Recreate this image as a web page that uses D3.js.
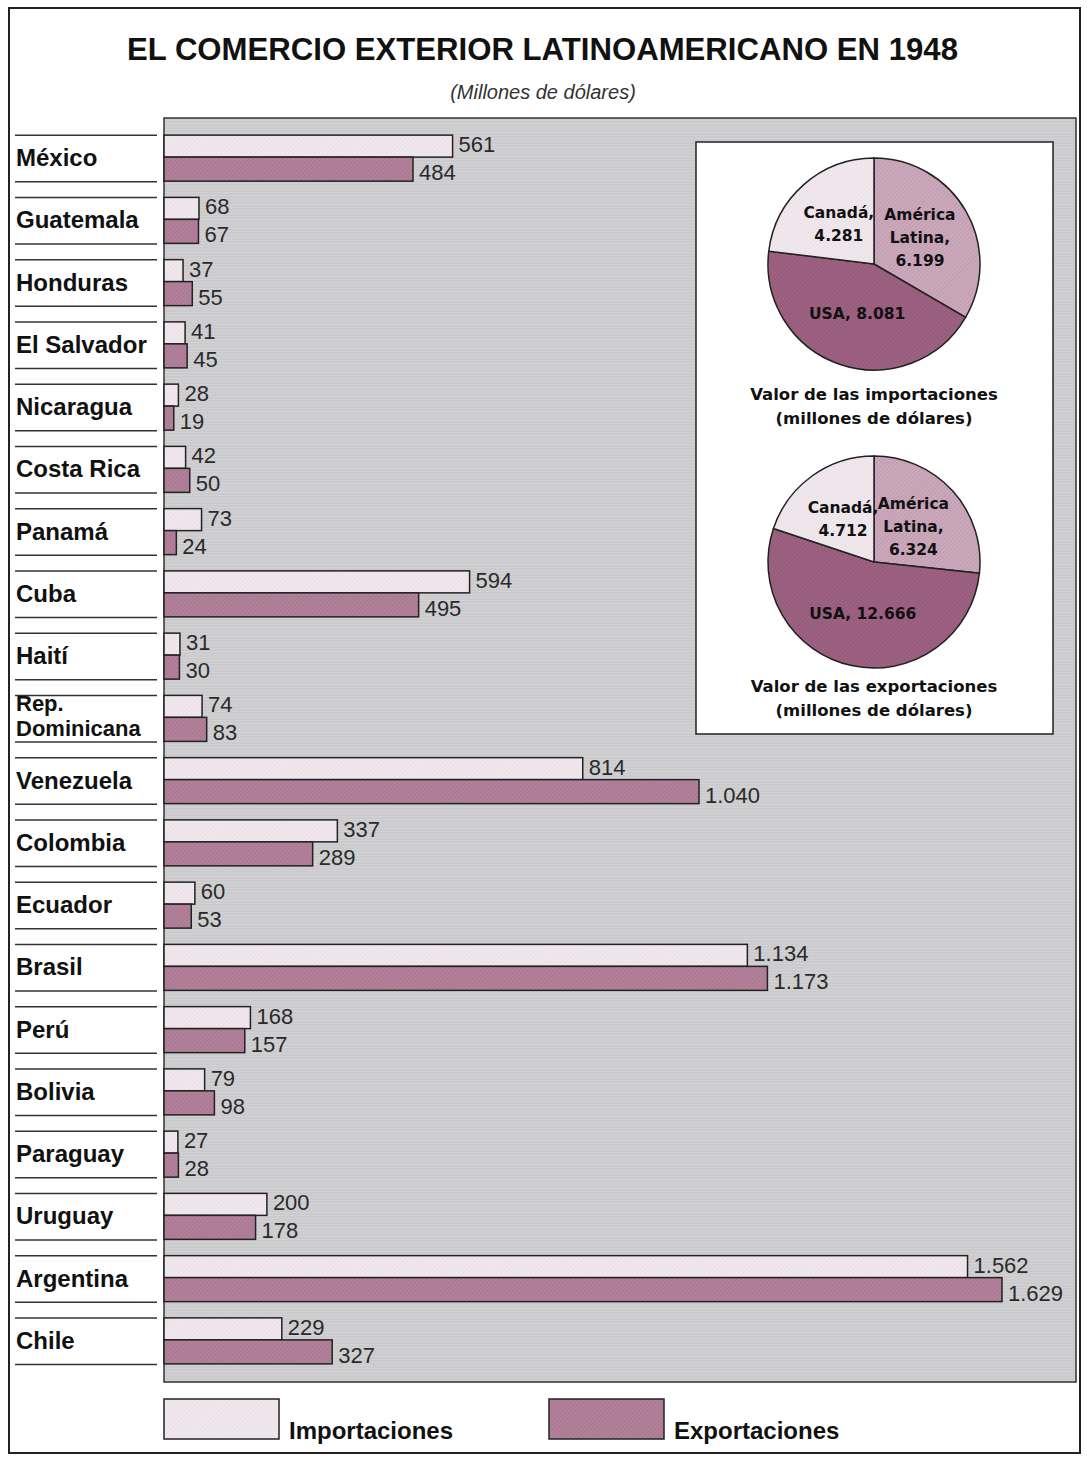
<!DOCTYPE html>
<html>
<head>
<meta charset="utf-8">
<script src="https://cdn.jsdelivr.net/npm/d3@7"></script>
<style>
	body { margin: 0; background: #fff; }
	.country { font-family: 'Liberation Sans', Arial, sans-serif; font-weight: bold; font-size: 24px; fill: #111; }
	.value { font-family: 'Liberation Sans', Arial, sans-serif; font-size: 22px; fill: #2a2a2a; }
	.pie-label { font-family: 'DejaVu Sans', sans-serif; font-weight: bold; font-size: 15.5px; fill: #111; }
	.caption { font-family: 'DejaVu Sans', sans-serif; font-weight: bold; font-size: 16.5px; fill: #111; }
	.legend { font-family: 'Liberation Sans', Arial, sans-serif; font-weight: bold; font-size: 24px; fill: #111; }
</style>
</head>
<body>
<div class="svg-container"></div>
<script>
var countries = ['México', 'Guatemala', 'Honduras', 'El Salvador', 'Nicaragua', 'Costa Rica', 'Panamá',
	'Cuba', 'Haití', 'Rep. Dominicana', 'Venezuela', 'Colombia', 'Ecuador', 'Brasil', 'Perú', 'Bolivia',
	'Paraguay', 'Uruguay', 'Argentina', 'Chile'];
var importaciones = [561, 68, 37, 41, 28, 42, 73, 594, 31, 74, 814, 337, 60, 1134, 168, 79, 27, 200, 1562, 229];
var exportaciones = [484, 67, 55, 45, 19, 50, 24, 495, 30, 83, 1040, 289, 53, 1173, 157, 98, 28, 178, 1629, 327];

var regiones = ['América Latina', 'USA', 'Canadá'];
var importPorOrigen = [6199, 8081, 4281];
var exportPorDestino = [6324, 12666, 4712];

var width = 1087;
var height = 1458;

var fmt = d3.formatLocale({ decimal: ',', thousands: '.', grouping: [3], currency: ['', ''] }).format(',d');

var svg = d3.select('.svg-container')
	.append('svg')
	.attr('width', width)
	.attr('height', height);

// textures
var defs = svg.append('defs');

function hatch(id, base, line, size, angle, sw) {
	var p = defs.append('pattern')
		.attr('id', id)
		.attr('patternUnits', 'userSpaceOnUse')
		.attr('width', size)
		.attr('height', size)
		.attr('patternTransform', 'rotate(' + angle + ')');
	p.append('rect').attr('width', size).attr('height', size).attr('fill', base);
	p.append('line')
		.attr('x1', 0).attr('y1', 0).attr('x2', 0).attr('y2', size)
		.attr('stroke', line).attr('stroke-width', sw);
}

hatch('panelTex', '#cbcbce', '#d9d9dc', 3, 90, 1);
hatch('impTex', '#f1e8ee', '#e2d4dd', 3, 45, 1);
hatch('expTex', '#b2819a', '#9f6a86', 3, 45, 1);
hatch('alTex', '#cba8bb', '#b690a5', 3, 45, 1);
hatch('usaTex', '#9d6181', '#8c5273', 3, 45, 1);
hatch('canTex', '#f1e8ee', '#e3d6de', 3, 45, 1);

// outer frame
svg.append('rect')
	.attr('x', 9).attr('y', 8)
	.attr('width', 1071).attr('height', 1445)
	.attr('fill', 'none')
	.attr('stroke', '#222')
	.attr('stroke-width', 2);

svg.append('text')
	.text('EL COMERCIO EXTERIOR LATINOAMERICANO EN 1948')
	.attr('x', 127)
	.attr('y', 60)
	.attr('textLength', 831)
	.attr('lengthAdjust', 'spacingAndGlyphs')
	.style('font-family', "'Liberation Sans', Arial, sans-serif")
	.style('font-weight', 'bold')
	.style('font-size', '32px')
	.style('fill', '#111');

svg.append('text')
	.text('(Millones de dólares)')
	.attr('x', 543)
	.attr('y', 99)
	.attr('text-anchor', 'middle')
	.style('font-family', "'Liberation Sans', Arial, sans-serif")
	.style('font-style', 'italic')
	.style('font-size', '20px')
	.style('fill', '#333');

var x0 = 164;
var xScale = d3.scaleLinear()
	.domain([0, 1629])
	.range([x0, 1002]);

var yScale = d3.scaleBand()
	.domain(countries)
	.range([126, 1371]);

var rows = countries.map(function(c, i) {
	return { name: c, imp: importaciones[i], exp: exportaciones[i] };
});

// gray panel
svg.append('rect')
	.attr('x', x0).attr('y', 118)
	.attr('width', 912).attr('height', 1264)
	.attr('fill', 'url(#panelTex)')
	.attr('stroke', '#333')
	.attr('stroke-width', 1.5);

function center(d) {
	return yScale(d.name) + yScale.bandwidth() / 2;
}

var row = svg.append('g').selectAll('g')
	.data(rows)
	.enter()
	.append('g');

// rule lines next to the labels
row.append('line')
	.attr('x1', 15).attr('x2', 157)
	.attr('y1', function(d) { return center(d) - 22; })
	.attr('y2', function(d) { return center(d) - 22; })
	.attr('stroke', '#333').attr('stroke-width', 1.5);

row.append('line')
	.attr('x1', 15).attr('x2', 157)
	.attr('y1', function(d) { return center(d) + 24.5; })
	.attr('y2', function(d) { return center(d) + 24.5; })
	.attr('stroke', '#333').attr('stroke-width', 1.5);

row.each(function(d) {
	var g = d3.select(this);
	if (d.name === 'Rep. Dominicana') {
		// two tight lines, as in the print
		g.append('text').attr('class', 'country').style('font-size', '22px')
			.attr('x', 16).attr('y', center(d) - 6).text('Rep.');
		g.append('text').attr('class', 'country').style('font-size', '22px')
			.attr('x', 16).attr('y', center(d) + 19).text('Dominicana');
	} else {
		g.append('text').attr('class', 'country')
			.attr('x', 16).attr('y', center(d) + 9).text(d.name);
	}
});

row.append('rect')
	.attr('x', x0)
	.attr('y', function(d) { return center(d) - 22; })
	.attr('width', function(d) { return xScale(d.imp) - x0; })
	.attr('height', 22)
	.attr('fill', 'url(#impTex)')
	.attr('stroke', '#222')
	.attr('stroke-width', 1.5);

row.append('rect')
	.attr('x', x0)
	.attr('y', function(d) { return center(d); })
	.attr('width', function(d) { return xScale(d.exp) - x0; })
	.attr('height', 24)
	.attr('fill', 'url(#expTex)')
	.attr('stroke', '#222')
	.attr('stroke-width', 1.5);

row.append('text')
	.attr('class', 'value')
	.attr('x', function(d) { return xScale(d.imp) + 6; })
	.attr('y', function(d) { return center(d) - 5; })
	.text(function(d) { return fmt(d.imp); });

row.append('text')
	.attr('class', 'value')
	.attr('x', function(d) { return xScale(d.exp) + 6; })
	.attr('y', function(d) { return center(d) + 23; })
	.text(function(d) { return fmt(d.exp); });

// inset with the two pies
svg.append('rect')
	.attr('x', 696).attr('y', 142)
	.attr('width', 357).attr('height', 592)
	.attr('fill', '#fff')
	.attr('stroke', '#222')
	.attr('stroke-width', 1.5);

var pieFills = ['url(#alTex)', 'url(#usaTex)', 'url(#canTex)'];
var radius = 106;

var pie = d3.pie().sort(null);
var arc = d3.arc().innerRadius(0).outerRadius(radius);
var labelArc = d3.arc().innerRadius(radius * 0.5).outerRadius(radius * 0.5);

function labelLines(name, v) {
	if (name === 'América Latina') return ['América', 'Latina,', fmt(v)];
	if (name === 'Canadá') return ['Canadá,', fmt(v)];
	return [name + ', ' + fmt(v)];
}

function drawPie(values, cx, cy, capY, cap1) {
	var g = svg.append('g')
		.attr('transform', 'translate(' + cx + ',' + cy + ')');

	var arcs = pie(values);

	g.selectAll('path')
		.data(arcs)
		.enter()
		.append('path')
		.attr('d', arc)
		.attr('fill', function(d, i) { return pieFills[i]; })
		.attr('stroke', '#222')
		.attr('stroke-width', 1.5);

	g.selectAll('text.pie-label')
		.data(arcs)
		.enter()
		.append('text')
		.attr('class', 'pie-label')
		.attr('text-anchor', 'middle')
		.each(function(d, i) {
			var c = labelArc.centroid(d);
			var lines = labelLines(regiones[i], d.value);
			var t = d3.select(this);
			var top = c[1] - (lines.length - 1) * 23 / 2 + 5;
			lines.forEach(function(l, k) {
				t.append('tspan')
					.attr('x', c[0])
					.attr('y', top + k * 23)
					.text(l);
			});
		});

	g.append('text')
		.attr('class', 'caption')
		.attr('text-anchor', 'middle')
		.attr('x', 0)
		.attr('y', capY)
		.text(cap1);

	g.append('text')
		.attr('class', 'caption')
		.attr('text-anchor', 'middle')
		.attr('x', 0)
		.attr('y', capY + 24)
		.text('(millones de dólares)');
}

drawPie(importPorOrigen, 874, 264, 136, 'Valor de las importaciones');
drawPie(exportPorDestino, 874, 562, 130, 'Valor de las exportaciones');

// legend
var legend = svg.append('g');
var legendItems = [
	{ label: 'Importaciones', fill: 'url(#impTex)', x: 164 },
	{ label: 'Exportaciones', fill: 'url(#expTex)', x: 549 }
];

legend.selectAll('rect')
	.data(legendItems)
	.enter()
	.append('rect')
	.attr('x', function(d) { return d.x; })
	.attr('y', 1399)
	.attr('width', 115)
	.attr('height', 40)
	.attr('fill', function(d) { return d.fill; })
	.attr('stroke', '#222')
	.attr('stroke-width', 1.5);

legend.selectAll('text')
	.data(legendItems)
	.enter()
	.append('text')
	.attr('class', 'legend')
	.attr('x', function(d) { return d.x + 125; })
	.attr('y', 1439)
	.text(function(d) { return d.label; });
</script>
</body>
</html>
